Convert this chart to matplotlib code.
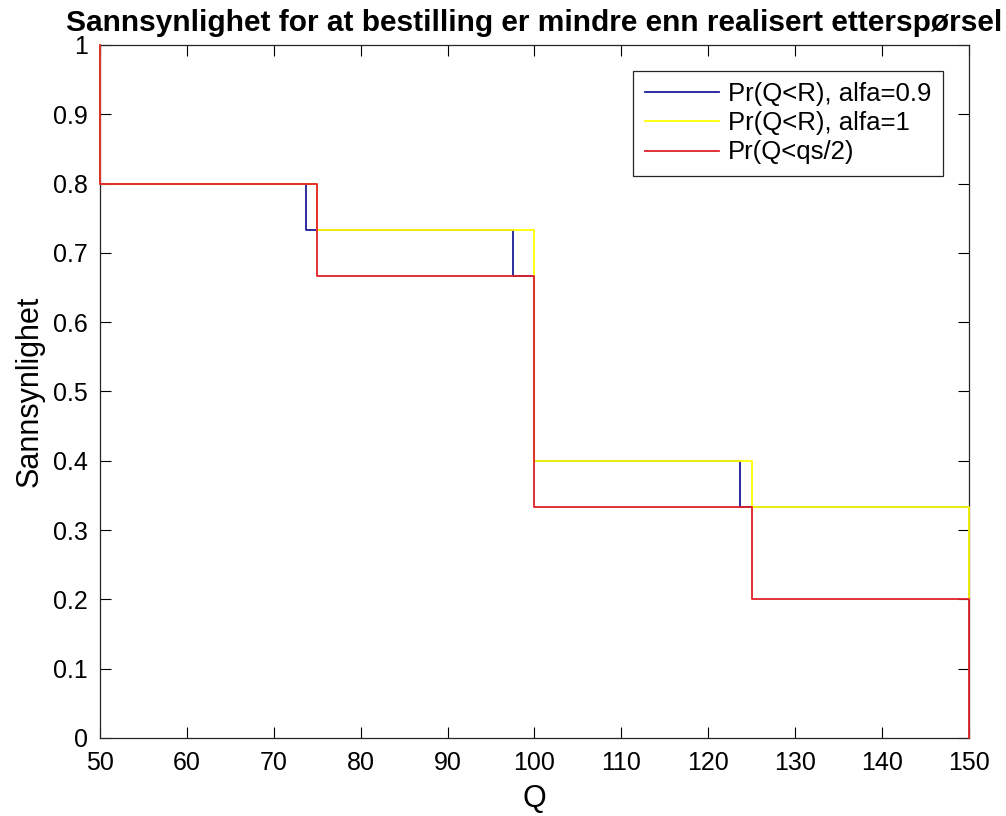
import matplotlib
matplotlib.use('Agg')
import matplotlib.pyplot as plt

plt.rcParams['font.family'] = ['Liberation Sans', 'DejaVu Sans']

# trinn-punkter (steps-post)
q_blaa = [50, 50, 73.7, 97.5, 100, 123.7, 150]
p_blaa = [1, 0.8, 0.7333, 0.6667, 0.4, 0.3333, 0.2]

q_gul = [50, 50, 75, 100, 125, 150]
p_gul = [1, 0.8, 0.7333, 0.4, 0.3333, 0.2]

q_rod = [50, 50, 75, 100, 125, 150]
p_rod = [1, 0.8, 0.6667, 0.3333, 0.2, 0]

etiketter = ['Pr(Q<R), alfa=0.9', 'Pr(Q<R), alfa=1', 'Pr(Q<qs/2)']

fig = plt.figure(figsize=(10.06, 8.16), dpi=100)
ax = fig.add_axes([0.0994, 0.0956, 0.8636, 0.8493])

ax.plot(q_blaa, p_blaa, drawstyle='steps-post', color='#1c1c9a', lw=1.3,
        label=etiketter[0], zorder=3, clip_on=False)
ax.plot(q_gul, p_gul, drawstyle='steps-post', color='#ffff00', lw=1.3,
        label=etiketter[1], zorder=3, clip_on=False)
ax.plot(q_rod, p_rod, drawstyle='steps-post', color='#e0202a', lw=1.3,
        label=etiketter[2], zorder=3, clip_on=False)

ax.set_xlim(50, 150)
ax.set_ylim(0, 1)
ax.set_xticks(range(50, 151, 10))
ax.set_yticks([i / 10 for i in range(11)])
ax.set_yticklabels(['0', '0.1', '0.2', '0.3', '0.4', '0.5', '0.6', '0.7', '0.8', '0.9', '1'])
ax.tick_params(direction='in', labelsize=18, top=True, right=True, length=8)
ax.tick_params(axis='x', pad=9.5)
ax.tick_params(axis='y', pad=8.5)
for s in ax.spines.values():
    s.set_linewidth(0.9)
    s.set_color('#262626')

ax.set_xlabel('Q', fontsize=22, labelpad=6)
ax.set_ylabel('Sannsynlighet', fontsize=22, labelpad=6)
ax.set_title('Sannsynlighet for at bestilling er mindre enn realisert etterspørsel',
             fontsize=21.5, fontweight='bold', pad=10)

leg = ax.legend(loc='upper right', fontsize=18.5, fancybox=False, edgecolor='#262626',
                framealpha=1, handlelength=2.9, handletextpad=0.35, borderaxespad=1.0,
                labelspacing=0.2, borderpad=0.45)
leg.get_frame().set_linewidth(0.9)

fig.savefig('out.png', dpi=100)
